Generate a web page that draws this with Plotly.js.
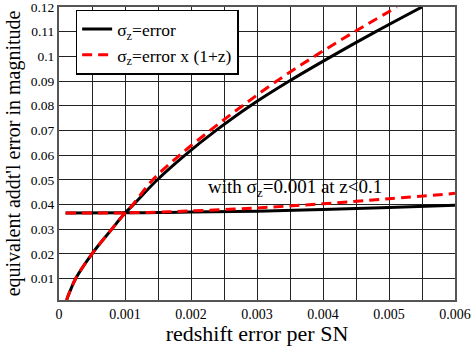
<!DOCTYPE html>
<html>
<head>
<meta charset="utf-8">
<script src="https://cdn.plot.ly/plotly-3.0.1.min.js"></script>
<style>
  body { margin: 0; padding: 0; background: #fff; }
  #graph { width: 471px; height: 346px; }
</style>
</head>
<body>
<div id="graph"></div>
<script>
// rising curves
var riseY = [0.0013, 0.0031, 0.0057, 0.01, 0.02, 0.03, 0.0365, 0.04, 0.05, 0.06, 0.07, 0.08, 0.09, 0.1, 0.11, 0.12]
var blackRiseX = [0.000115, 0.00014, 0.00018, 0.000253, 0.0005, 0.0008, 0.001, 0.00113, 0.00149, 0.00191, 0.00238, 0.0029, 0.00349, 0.00413, 0.0048, 0.0055]
var redRiseX = [0.000115, 0.00014, 0.00018, 0.000253, 0.0005, 0.0008, 0.001, 0.00112, 0.00142, 0.00183, 0.00229, 0.00278, 0.0033, 0.00387, 0.00448, 0.00512]

// flat curves (sigma_z = 0.001 at z<0.1)
var flatX = [0.0001, 0.001, 0.0015, 0.002, 0.003, 0.004, 0.005, 0.006]
var blackFlatY = [0.0365, 0.0366, 0.0367, 0.0369, 0.0373, 0.038, 0.0388, 0.0397]
var redFlatY = [0.0365, 0.0366, 0.0369, 0.0374, 0.0386, 0.0403, 0.0423, 0.0445]

var names = ['σ<sub>z</sub>=error', 'σ<sub>z</sub>=error x (1+z)']
var note = 'with σ<sub>z</sub>=0.001 at z&lt;0.1'

var serif = 'Liberation Serif'
var blackLine = {color: '#000', width: 3, shape: 'spline', smoothing: 1}
var redLine = {color: '#ff0000', width: 3, dash: '10px,6px', shape: 'spline', smoothing: 1}

var traces = [
  {x: blackRiseX, y: riseY, mode: 'lines', name: names[0], line: blackLine},
  {x: flatX, y: blackFlatY, mode: 'lines', name: names[0], showlegend: false, line: blackLine},
  {x: redRiseX, y: riseY, mode: 'lines', name: names[1], line: redLine},
  {x: flatX, y: redFlatY, mode: 'lines', name: names[1], showlegend: false, line: redLine}
]

var layout = {
  width: 471,
  height: 346,
  margin: {l: 59, r: 16, t: 7, b: 46, pad: 0},
  paper_bgcolor: '#fff',
  plot_bgcolor: '#fff',
  font: {family: serif, size: 14, color: '#000'},
  showlegend: true,
  legend: {
    x: 0.042, y: 0.88, xanchor: 'left', yanchor: 'middle',
    bgcolor: '#fff', bordercolor: '#000', borderwidth: 1.5,
    font: {family: serif, size: 17.5, color: '#000'},
    tracegroupgap: 0
  },
  xaxis: {
    range: [0, 0.006],
    dtick: 0.001, tick0: 0,
    showgrid: true, gridcolor: '#222', gridwidth: 1,
    minor: {dtick: 0.0005, showgrid: true, gridcolor: '#222', gridwidth: 1},
    zeroline: false,
    showline: true, mirror: true, linecolor: '#555', linewidth: 2,
    ticks: '', ticklabeloverflow: 'allow',
    tickfont: {family: serif, size: 14},
    title: {text: 'redshift error per SN', font: {family: serif, size: 22}, standoff: 4}
  },
  yaxis: {
    range: [0.0013, 0.12],
    dtick: 0.01, tick0: 0,
    showgrid: true, gridcolor: '#222', gridwidth: 1,
    zeroline: false,
    showline: true, mirror: true, linecolor: '#555', linewidth: 2,
    ticks: '', ticklabeloverflow: 'allow',
    tickfont: {family: serif, size: 13.5},
    title: {text: "equivalent addt'l error in magnitude", font: {family: serif, size: 20}, standoff: 5}
  },
  annotations: [{
    x: 0.00358, y: 0.0466, xref: 'x', yref: 'y',
    text: note, showarrow: false,
    font: {family: serif, size: 19, color: '#000'}
  }]
}

Plotly.newPlot('graph', traces, layout, {displayModeBar: false, staticPlot: true})
</script>
</body>
</html>
